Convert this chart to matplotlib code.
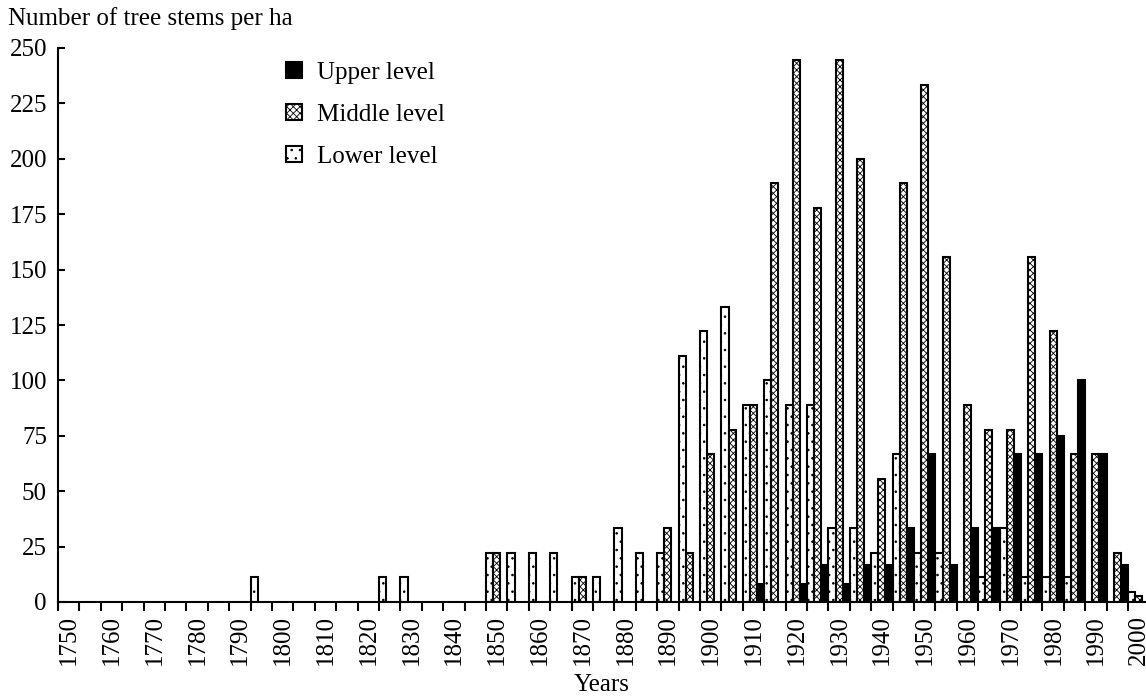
import numpy as np
import matplotlib
matplotlib.use("Agg")
import matplotlib.pyplot as plt
from matplotlib.ticker import MultipleLocator

plt.rcParams['font.family'] = 'Liberation Serif'
plt.rcParams['hatch.linewidth'] = 0.6

# 5-year age classes (start year) and stems per ha for each canopy level
years = [1795, 1825, 1830, 1850, 1855, 1860, 1865, 1870, 1875, 1880, 1885,
         1890, 1895, 1900, 1905, 1910, 1915, 1920, 1925, 1930, 1935, 1940,
         1945, 1950, 1955, 1960, 1965, 1970, 1975, 1980, 1985, 1990, 1995, 2000]
lower = [11.1, 11.1, 11.1, 22.2, 22.2, 22.2, 22.2, 11.1, 11.1, 33.3, 22.2,
         22.2, 111.1, 122.2, 133.3, 88.9, 100, 88.9, 88.9, 33.3, 33.3, 22.2,
         66.7, 22.2, 22.2, 0, 11.1, 33.3, 11.1, 11.1, 11.1, 0, 0, 4.7]
middle = [0, 0, 0, 22.2, 0, 0, 0, 11.1, 0, 0, 0,
          33.3, 22.2, 66.7, 77.8, 88.9, 188.9, 244.4, 177.8, 244.4, 200, 55.6,
          188.9, 233.3, 155.6, 88.9, 77.8, 77.8, 155.6, 122.2, 66.7, 66.7, 22.2, 2.5]
upper = [0, 0, 0, 0, 0, 0, 0, 0, 0, 0, 0,
         0, 0, 0, 0, 8.3, 0, 8.3, 16.7, 8.3, 16.7, 16.7,
         33.3, 66.7, 16.7, 33.3, 33.3, 66.7, 66.7, 75, 100, 66.7, 16.7, 0]

years = np.array(years)
bw = 5 / 3
fs = 18

fig = plt.figure(figsize=(11.46, 7.0), dpi=100)
ax = fig.add_axes([58 / 1146, 1 - 602 / 700, 1 - 58 / 1146, (602 - 48) / 700])

series = [
    (lower, 0, dict(facecolor='white', hatch='..'), 'Lower level'),
    (middle, 1, dict(facecolor='white', hatch='xxxxx'), 'Middle level'),
    (upper, 2, dict(facecolor='black'), 'Upper level'),
]
handles = {}
for vals, k, style, name in series:
    vals = np.array(vals)
    m = vals > 0
    b = ax.bar(years[m] + k * bw, vals[m], width=bw, align='edge',
               edgecolor='black', linewidth=1.5, label=name, **style)
    handles[name] = b

ax.set_xlim(1750, 2004.2)
ax.set_ylim(0, 250)
ax.spines['top'].set_visible(False)
ax.spines['right'].set_visible(False)
ax.spines['left'].set_linewidth(1.5)
ax.spines['bottom'].set_linewidth(1.5)

ax.xaxis.set_major_locator(MultipleLocator(10))
ax.xaxis.set_minor_locator(MultipleLocator(5))
ax.yaxis.set_major_locator(MultipleLocator(25))
ax.tick_params(axis='x', which='both', direction='out', length=6.5, width=1.5,
               labelsize=fs, pad=3)
ax.tick_params(axis='y', direction='in', length=5, width=1.5, labelsize=fs, pad=8)
plt.setp(ax.get_xticklabels(), rotation=90, ha='left')

ax.set_xlabel('Years', fontsize=fs)
ax.xaxis.set_label_coords(0.5, -0.13)
fig.text(8 / 1146, 1 - 25 / 700, 'Number of tree stems per ha', fontsize=fs,
         ha='left', va='baseline')

order = ['Upper level', 'Middle level', 'Lower level']
ax.legend([handles[n] for n in order], order, loc='upper left',
          bbox_to_anchor=(286 / 1146, 1 - 62 / 700), bbox_transform=fig.transFigure,
          frameon=False, fontsize=fs, handlelength=0.63, handleheight=0.57,
          handletextpad=0.6, labelspacing=0.8, borderpad=0, borderaxespad=0)

fig.savefig('out.png', dpi=100)
